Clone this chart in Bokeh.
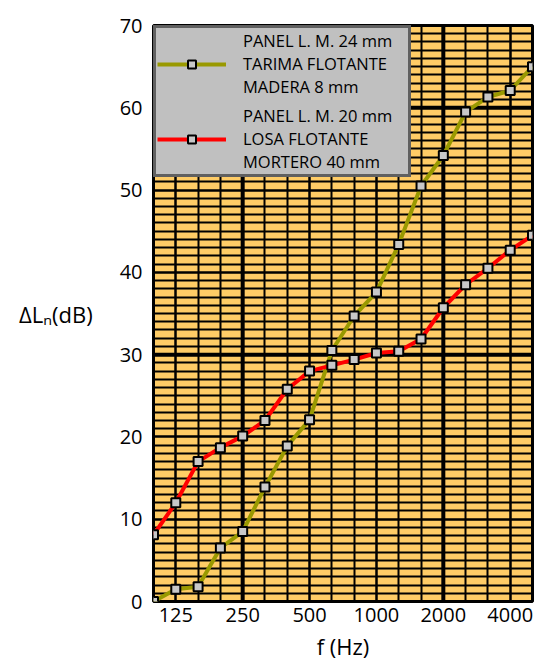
from bokeh.plotting import figure
from bokeh.models import FixedTicker, Span, Legend, LegendItem
from bokeh.embed import file_html
from bokeh.resources import INLINE

# ---- data ----
bands = ["100", "125", "160", "200", "250", "315", "400", "500", "630", "800",
         "1000", "1250", "1600", "2000", "2500", "3150", "4000", "5000"]
tarima = [0.0, 1.5, 1.8, 6.5, 8.5, 13.9, 18.9, 22.1, 30.5, 34.7,
          37.6, 43.4, 50.5, 54.2, 59.5, 61.3, 62.1, 65.0]
losa = [8.1, 12.0, 17.0, 18.7, 20.1, 22.0, 25.8, 28.0, 28.7, 29.4,
        30.2, 30.4, 31.9, 35.7, 38.5, 40.5, 42.7, 44.5]
x_labels = ["125", "250", "500", "1000", "2000", "4000"]
y_ticks = [0, 10, 20, 30, 40, 50, 60, 70]
heavy_bands = ["250", "2000"]
heavy_levels = [30, 60]
legend_labels = ["PANEL L. M. 24 mm\nTARIMA FLOTANTE\nMADERA 8 mm",
                 "PANEL L. M. 20 mm\nLOSA FLOTANTE\nMORTERO 40 mm"]
series_colors = ["#999900", "#FF0000"]

FONT = "Open Sans"
xs = list(range(len(bands)))

p = figure(width=535, height=663, output_backend="svg", toolbar_location=None,
           x_range=(xs[0], xs[-1]), y_range=(y_ticks[0], y_ticks[-1]),
           min_border_left=153, min_border_right=3, min_border_top=25,
           min_border_bottom=55)

p.background_fill_color = "#FFCC66"
p.border_fill_color = "white"
p.outline_line_color = "black"
p.outline_line_width = 3

# axes
p.xaxis.ticker = FixedTicker(ticks=[bands.index(l) for l in x_labels], minor_ticks=xs)
p.xaxis.major_label_overrides = {bands.index(l): l for l in x_labels}
p.yaxis.ticker = FixedTicker(ticks=y_ticks,
                             minor_ticks=list(range(y_ticks[0], y_ticks[-1] + 1)))
for ax in (p.xaxis[0], p.yaxis[0]):
    ax.axis_line_color = None
    ax.major_tick_line_color = None
    ax.minor_tick_line_color = None
    ax.major_label_text_font = FONT
    ax.major_label_text_font_size = "20px"
    ax.major_label_text_color = "black"
    ax.axis_label_text_font = FONT
    ax.axis_label_text_font_size = "22px"
    ax.axis_label_text_font_style = "normal"
    ax.axis_label_text_color = "black"
p.xaxis.major_label_standoff = 0
p.yaxis.major_label_standoff = 5
p.xaxis.axis_label = "f (Hz)"
p.xaxis.axis_label_standoff = 6
p.yaxis.axis_label = "\u0394L\u2099(dB)"
p.yaxis.axis_label_orientation = "horizontal"
p.yaxis.axis_label_standoff = 24

# grid
for g in (p.xgrid[0], p.ygrid[0]):
    g.grid_line_color = "black"
    g.grid_line_width = 2
    g.minor_grid_line_color = "black"
    g.minor_grid_line_width = 2

for b in heavy_bands:
    p.add_layout(Span(location=bands.index(b), dimension="height", line_color="black",
                      line_width=4, level="underlay"))
for lv in heavy_levels:
    p.add_layout(Span(location=lv, dimension="width", line_color="black",
                      line_width=4, level="underlay"))

# series
items = []
for ys, col, lab in zip([tarima, losa], series_colors, legend_labels):
    rl = p.line(xs, ys, line_color=col, line_width=4)
    rs = p.scatter(xs, ys, marker="square", size=9, fill_color="#C8C8C8",
                   line_color="black", line_width=2)
    items.append(LegendItem(label=lab, renderers=[rl, rs]))

legend = Legend(items=items, location="top_left", margin=0, padding=1, spacing=6,
                glyph_width=69, glyph_height=20, label_standoff=17, label_width=164,
                label_text_font=FONT, label_text_font_size="16.5px",
                label_text_color="black",
                border_line_color="black", border_line_width=3,
                background_fill_color="#C0C0C0", background_fill_alpha=1)
p.add_layout(legend)

open("out.html", "w").write(file_html(p, INLINE))
